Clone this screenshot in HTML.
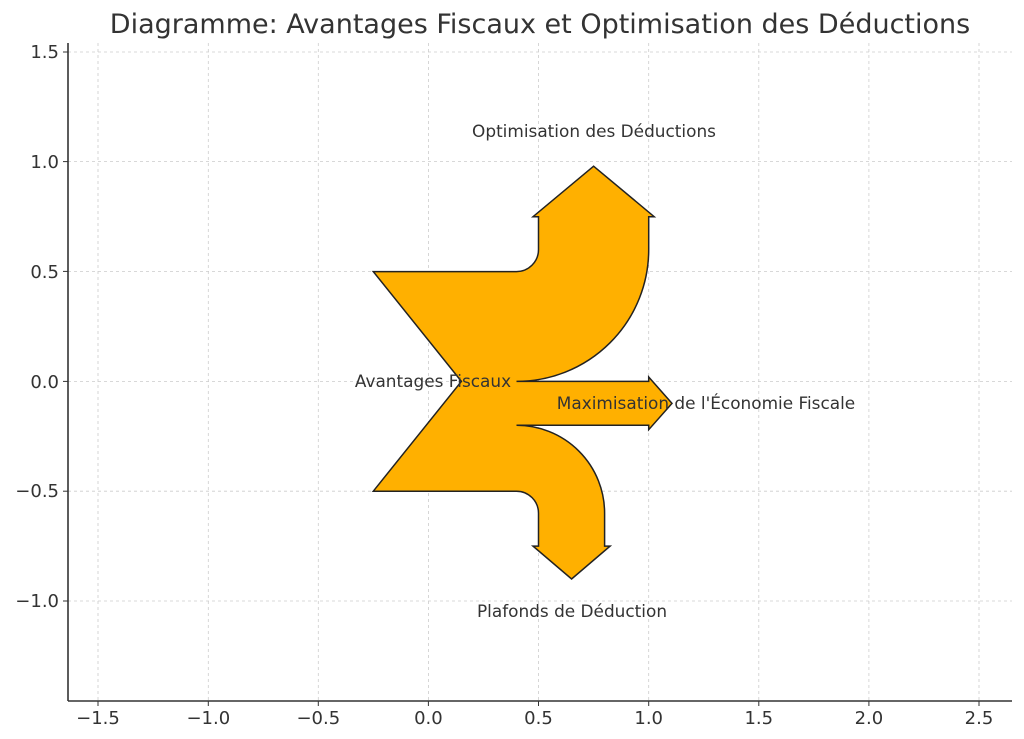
<!DOCTYPE html>
<html><head><meta charset="utf-8"><style>body{margin:0;background:#fff}svg{display:block}</style></head>
<body>
<svg width="1024" height="739" xmlns="http://www.w3.org/2000/svg" font-family="DejaVu Sans, Liberation Sans, sans-serif">
<rect width="1024" height="739" fill="#fff"/>
<g stroke="#cccccc" stroke-width="0.8" stroke-dasharray="3,3">
<line x1="98" y1="43" x2="98" y2="701"/><line x1="208.3" y1="43" x2="208.3" y2="701"/><line x1="318.3" y1="43" x2="318.3" y2="701"/><line x1="428.4" y1="43" x2="428.4" y2="701"/><line x1="538.5" y1="43" x2="538.5" y2="701"/><line x1="648.7" y1="43" x2="648.7" y2="701"/><line x1="758.8" y1="43" x2="758.8" y2="701"/><line x1="868.9" y1="43" x2="868.9" y2="701"/><line x1="979" y1="43" x2="979" y2="701"/>
<line x1="68" y1="52" x2="1012" y2="52"/><line x1="68" y1="161.6" x2="1012" y2="161.6"/><line x1="68" y1="271.4" x2="1012" y2="271.4"/><line x1="68" y1="381.4" x2="1012" y2="381.4"/><line x1="68" y1="491.2" x2="1012" y2="491.2"/><line x1="68" y1="601" x2="1012" y2="601"/>
</g>
<path d="M373.3,271.6 L516.5,271.6 A22,22 0 0 0 538.5,249.6 L538.5,216.7 L533,216.7 L593.6,166.2 L654.2,216.7 L648.7,216.7 L648.7,249.6 A132.2,131.8 0 0 1 516.5,381.4 L648.7,381.4 L648.7,377 L672,403.4 L648.7,429.7 L648.7,425.3 L516.5,425.3 A88.1,87.8 0 0 1 604.6,513.2 L604.6,546.1 L610.1,546.1 L571.6,579 L533,546.1 L538.5,546.1 L538.5,513.2 A22,22 0 0 0 516.5,491.2 L373.3,491.2 L461.4,381.4 Z" fill="#ffb000" stroke="#222" stroke-width="1.5" stroke-linejoin="miter"/>
<g stroke="#333" stroke-width="1.6"><line x1="68" y1="43" x2="68" y2="701"/><line x1="68" y1="701" x2="1012" y2="701"/></g>
<g stroke="#333" stroke-width="1">
<line x1="63" y1="52" x2="68" y2="52"/><line x1="63" y1="161.6" x2="68" y2="161.6"/><line x1="63" y1="271.4" x2="68" y2="271.4"/><line x1="63" y1="381.4" x2="68" y2="381.4"/><line x1="63" y1="491.2" x2="68" y2="491.2"/><line x1="63" y1="601" x2="68" y2="601"/>
<line x1="98" y1="701" x2="98" y2="706"/><line x1="208.3" y1="701" x2="208.3" y2="706"/><line x1="318.3" y1="701" x2="318.3" y2="706"/><line x1="428.4" y1="701" x2="428.4" y2="706"/><line x1="538.5" y1="701" x2="538.5" y2="706"/><line x1="648.7" y1="701" x2="648.7" y2="706"/><line x1="758.8" y1="701" x2="758.8" y2="706"/><line x1="868.9" y1="701" x2="868.9" y2="706"/><line x1="979" y1="701" x2="979" y2="706"/>
</g>
<g fill="#333" font-size="18" text-anchor="end">
<text x="59" y="58">1.5</text><text x="59" y="168">1.0</text><text x="59" y="278">0.5</text><text x="59" y="388">0.0</text><text x="59" y="497">−0.5</text><text x="59" y="607">−1.0</text>
</g>
<g fill="#333" font-size="18" text-anchor="middle">
<text x="98" y="724">−1.5</text><text x="208.3" y="724">−1.0</text><text x="318.3" y="724">−0.5</text><text x="428.4" y="724">0.0</text><text x="538.5" y="724">0.5</text><text x="648.7" y="724">1.0</text><text x="758.8" y="724">1.5</text><text x="868.9" y="724">2.0</text><text x="979" y="724">2.5</text>
</g>
<text x="540" y="33" font-size="27" fill="#333" text-anchor="middle">Diagramme: Avantages Fiscaux et Optimisation des Déductions</text>
<g fill="#333" font-size="16.9" text-anchor="middle">
<text x="594" y="137">Optimisation des Déductions</text>
<text x="433" y="387">Avantages Fiscaux</text>
<text x="706" y="409">Maximisation de l'Économie Fiscale</text>
<text x="572" y="617">Plafonds de Déduction</text>
</g>
</svg>
</body></html>
